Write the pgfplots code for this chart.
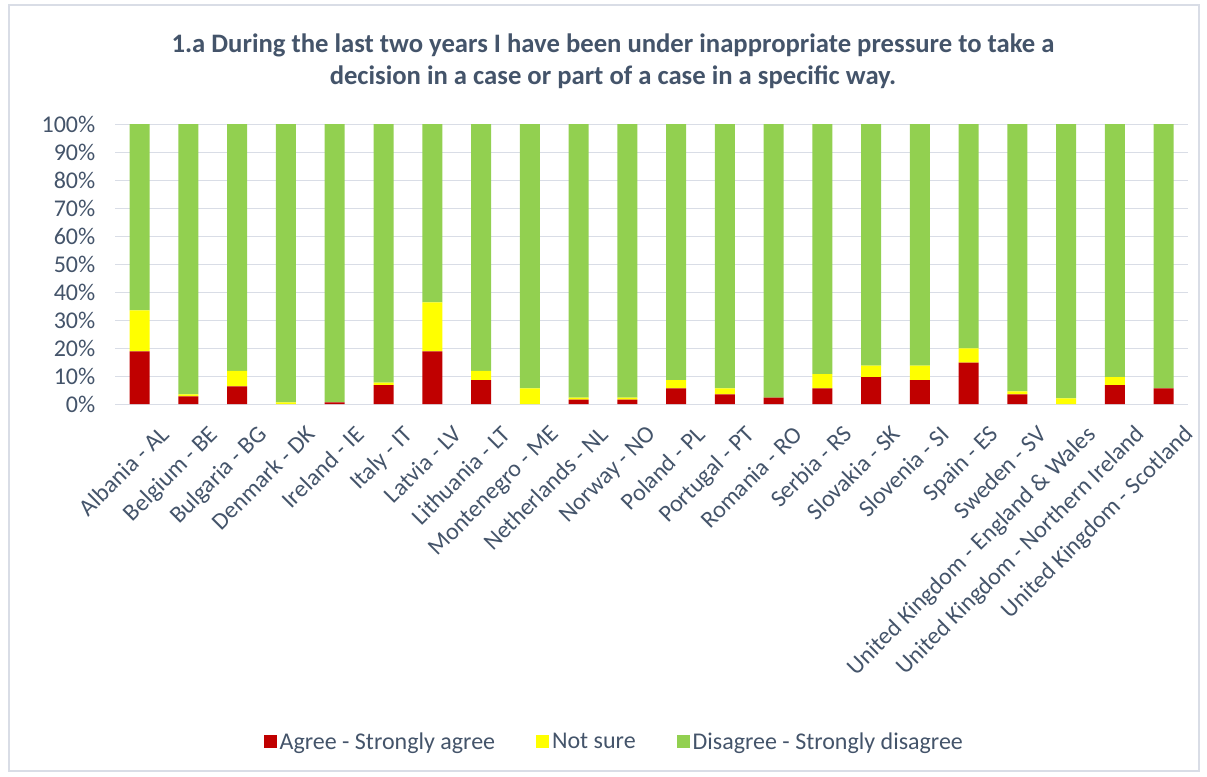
\documentclass[border=0pt]{standalone}
\usepackage{pgfplots}
\pgfplotsset{compat=1.18}
\usepackage{fontspec}
\setmainfont{Carlito}
\definecolor{agreec}{HTML}{C00000}
\definecolor{unsurec}{HTML}{FFFF00}
\definecolor{disagreec}{HTML}{92D050}
\definecolor{txtc}{HTML}{44546A}
\definecolor{gridc}{HTML}{D9DDE6}
\definecolor{framec}{HTML}{D9DDE6}
\begin{document}
\begin{tikzpicture}
\path[use as bounding box] (0,0) rectangle (905.25pt,582pt);
\draw[framec, line width=0.9pt] (6.75pt,3.75pt) rectangle (899.25pt,578.25pt);
\node[txtc, font=\fontsize{20}{24}\selectfont\bfseries, align=center] at (459.75pt,536.25pt)
  {1.a During the last two years I have been under inappropriate pressure to take a\\
   decision in a case or part of a case in a specific way.};
\begin{axis}[
  at={(86.5pt,279pt)}, anchor=south west,
  scale only axis, width=804.5pt, height=210pt,
  ybar stacked, bar width=15pt,
  xmin=-0.5, xmax=21.5, ymin=0, ymax=100,
  xtick={0,...,21},
  xticklabels={Albania - AL, Belgium - BE, Bulgaria - BG, Denmark - DK, Ireland - IE, Italy - IT, Latvia - LV, Lithuania - LT, Montenegro - ME, Netherlands - NL, Norway - NO, Poland - PL, Portugal - PT, Romania - RO, Serbia - RS, Slovakia - SK, Slovenia - SI, Spain - ES, Sweden - SV, United Kingdom - England \& Wales, United Kingdom - Northern Ireland, United Kingdom - Scotland},
  ytick={0,10,...,100},
  yticklabel={\pgfmathprintnumber{\tick}\%},
  /pgf/number format/assume math mode=true,
  ymajorgrids, grid style={gridc, line width=0.75pt},
  axis x line*=bottom, axis y line*=left,
  x axis line style={gridc, line width=0.75pt},
  y axis line style={draw=none},
  tick style={draw=none},
  ticklabel style={txtc, font=\fontsize{18}{21}\selectfont},
  yticklabel style={xshift=-11.5pt},
  xticklabel style={rotate=45, anchor=north east, inner sep=0pt, yshift=-20.5pt, xshift=-0.5pt},
  legend style={at={(0.4656,-1.207)}, anchor=center, draw=none, fill=none,
    legend columns=3, font=\fontsize{18}{21}\selectfont, text=txtc,
    /tikz/every even column/.append style={column sep=29pt}},
  legend image code/.code={\fill[#1] (0pt,-4.9pt) rectangle (9.75pt,4.9pt);},
]
\addplot[fill=agreec, draw=none] coordinates {(0,18.8) (1,2.7) (2,6.3) (3,0) (4,0.6) (5,6.7) (6,18.8) (7,8.5) (8,0) (9,1.6) (10,1.6) (11,5.6) (12,3.4) (13,2.3) (14,5.6) (15,9.6) (16,8.5) (17,14.8) (18,3.4) (19,0) (20,6.7) (21,5.6)};
\addplot[fill=unsurec, draw=none] coordinates {(0,14.6) (1,0.7) (2,5.5) (3,0.6) (4,0) (5,0.9) (6,17.5) (7,3.3) (8,5.6) (9,0.7) (10,0.7) (11,2.9) (12,2.2) (13,0) (14,5.1) (15,4.1) (16,5.2) (17,5.1) (18,1.1) (19,2.0) (20,2.9) (21,0)};
\addplot[fill=disagreec, draw=none] coordinates {(0,66.6) (1,96.6) (2,88.2) (3,99.4) (4,99.4) (5,92.4) (6,63.7) (7,88.2) (8,94.4) (9,97.7) (10,97.7) (11,91.5) (12,94.4) (13,97.7) (14,89.3) (15,86.3) (16,86.3) (17,80.1) (18,95.5) (19,98.0) (20,90.4) (21,94.4)};
\legend{Agree - Strongly agree, Not sure, Disagree - Strongly disagree}
\end{axis}
\end{tikzpicture}
\end{document}
